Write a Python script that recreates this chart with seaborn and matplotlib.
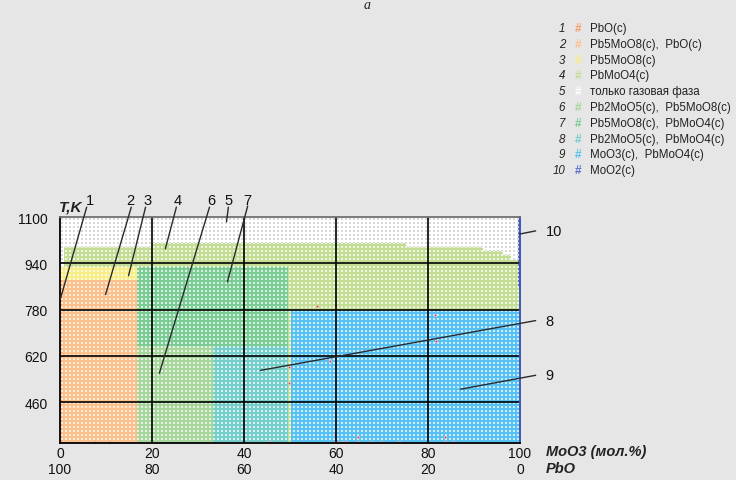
import numpy as np
import pandas as pd
import matplotlib
matplotlib.use("Agg")
import matplotlib.pyplot as plt
from matplotlib.colors import to_rgb
import seaborn as sns

# ---------------- data ----------------
phase_numbers = ["1", "2", "3", "4", "5", "6", "7", "8", "9", "10"]
phase_labels = [
    "PbO(c)",
    "Pb5MoO8(c),  PbO(c)",
    "Pb5MoO8(c)",
    "PbMoO4(c)",
    "только газовая фаза",
    "Pb2MoO5(c),  Pb5MoO8(c)",
    "Pb5MoO8(c),  PbMoO4(c)",
    "Pb2MoO5(c),  PbMoO4(c)",
    "MoO3(c),  PbMoO4(c)",
    "MoO2(c)",
]

# phase fields (mol.% MoO3, T in K); painted in order, later ones overwrite
field_phase = [4, 5, 5, 5, 5, 5, 5, 5, 2, 1, 3, 7, 6, 8, 9, 10]
field_x0 = [0, 0, 0.8, 20, 75.3, 92, 96.4, 98, 0, 0, 0, 16.7, 16.7, 33.3, 50.2, 99.5]
field_x1 = [100, 0.8, 20, 75.3, 92, 96.4, 98, 99.5, 16.7, 0.5, 16.7, 49.5, 33.3, 49.5, 100, 100]
field_T0 = [319, 928, 997, 1010, 996, 984, 967, 953, 319, 319, 881, 653, 319, 319, 319, 859]
field_T1 = [1100, 1100, 1100, 1100, 1100, 1100, 1100, 1100, 881, 881, 928, 928, 653, 653, 778, 1100]

# stray calculated points (red specks)
red_x = [7.7, 10.6, 45.6, 49.7, 49.7, 55.8, 81.6, 81.8, 58.8, 59.7, 60.3, 61.4,
         62.1, 64.7, 67.7, 69.7, 73.6, 83.8, 85.5, 59.7, 64.7, 83.8]
red_T = [322, 322, 322, 583, 528, 792, 763, 673, 604, 322, 322, 322,
         322, 322, 322, 322, 322, 340, 322, 350, 340, 322]

x_ticks = [0, 20, 40, 60, 80, 100]
x_ticks_pbo = [100, 80, 60, 40, 20, 0]
y_ticks = [460, 620, 780, 940, 1100]
T_min, T_max = 319, 1100

# callout labels: (text, label x, label T, line start x, T, line end x, T)
call_text = ["1", "2", "3", "4", "6", "5", "7", "8", "9", "10"]
call_lx = [6.6, 15.3, 19.0, 25.5, 32.9, 36.6, 40.8, 106.5, 106.5, 107.5]
call_lT = [1160, 1160, 1160, 1160, 1160, 1160, 1160, 742, 553, 1052]
call_x0 = [5.8, 15.5, 18.6, 25.3, 32.5, 36.6, 40.8, 103.4, 103.4, 103.4]
call_T0 = [1134, 1134, 1134, 1134, 1134, 1134, 1138, 742, 553, 1052]
call_x1 = [0.1, 9.9, 14.9, 22.9, 21.6, 36.2, 36.4, 43.6, 87.1, 99.9]
call_T1 = [818, 832, 897, 990, 560, 1083, 876, 570, 505, 1041]

# ---------------- style ----------------
phase_colors = ["#f59f6e", "#fcc08c", "#f7ee88", "#c4dd95",
                "#ffffff", "#a6d69b", "#7bcc94", "#76cecb", "#58c1f3", "#5b74c8"]
bg = "#e6e6e6"

sns.set_theme(style="white")
plt.rcParams["font.family"] = ["Liberation Sans", "DejaVu Sans"]

W, H = 736, 481
ax_l, ax_b, ax_w, ax_h = 60, 37, 460, 226
fig = plt.figure(figsize=(W / 100, H / 100), dpi=100, facecolor=bg)
ax = fig.add_axes([ax_l / W, ax_b / H, ax_w / W, ax_h / H])
ax.set_facecolor("white")

# phase map sampled at every screen pixel, with the dotted texture of the original
jj = np.arange(ax_w)
ii = np.arange(ax_h)
Xp = (jj + 0.5) * 100 / ax_w
Tp = T_max - (ii + 0.5) * (T_max - T_min) / ax_h
X, T = np.meshgrid(Xp, Tp)
P = np.zeros_like(X, dtype=int)
for p, a, b, c, d in zip(field_phase, field_x0, field_x1, field_T0, field_T1):
    m = (X >= a) & (X <= b) & (T >= c) & (T <= d)
    P[m] = p

def lighten(c, f):
    r, g, b = to_rgb(c)
    return (r + (1 - r) * f, g + (1 - g) * f, b + (1 - b) * f)

base = np.array([to_rgb(c) for c in phase_colors])
dots = np.array([lighten(c, 0.72) for c in phase_colors])
dots[4] = to_rgb("#d8d8d8")
J, I = np.meshgrid(jj, ii)
dot_mask = ((J % 4) >= 1) & ((J % 4) <= 2) & ((I % 4) >= 1) & ((I % 4) <= 2)
img = np.where(dot_mask[..., None], dots[P - 1], base[P - 1])
ax.imshow(img, extent=(0, 100, T_min, T_max), origin="upper", aspect="auto",
          interpolation="nearest", zorder=1)

spec = pd.DataFrame({"x": red_x, "T": red_T})
sns.scatterplot(data=spec, x="x", y="T", color="#e3242b", marker="s", s=3.6,
                edgecolor="#f2c8c8", linewidth=0.5, ax=ax, zorder=2)

ax.set_xlim(0, 100)
ax.set_ylim(T_min, T_max)

for v in x_ticks[1:-1]:
    ax.axvline(v, color="black", lw=1.2, zorder=3)
for v in y_ticks[:-1]:
    ax.axhline(v, color="black", lw=1.2, zorder=3)

ax.set_xticks(x_ticks)
ax.set_xticklabels([f"{a}\n{b}" for a, b in zip(x_ticks, x_ticks_pbo)],
                   fontsize=10, linespacing=1.2)
ax.set_yticks(y_ticks)
ax.set_yticklabels([str(v) for v in y_ticks], fontsize=10)
ax.tick_params(axis="both", length=0, colors="#111111")
ax.tick_params(axis="y", pad=9)
ax.tick_params(axis="x", pad=2)
ax.set_xlabel("")
ax.set_ylabel("")

for s in ["left", "bottom"]:
    ax.spines[s].set_color("black")
    ax.spines[s].set_linewidth(1.3)
ax.spines["top"].set_color("#707070")
ax.spines["top"].set_linewidth(1.3)
ax.spines["right"].set_color("#3f57b8")
ax.spines["right"].set_linewidth(1.4)
ax.spines["right"].set_linestyle((0, (1, 1)))
for s in ax.spines.values():
    s.set_zorder(4)

# callouts
for t, lx, lT, x0, T0, x1, T1 in zip(call_text, call_lx, call_lT, call_x0, call_T0,
                                      call_x1, call_T1):
    ax.plot([x0, x1], [T0, T1], color="#2a2a2a", lw=1.0, clip_on=False, zorder=5)
    ax.text(lx, lT, t, fontsize=10.5, ha="center", va="center", color="#111111",
            clip_on=False, zorder=5)

# axis titles
fig.text(59 / W, 1 - 207 / H, "T,K", fontsize=11, fontweight="bold",
         fontstyle="italic", ha="left", va="center", color="#222222")
fig.text(546 / W, 1 - 452 / H, "MoO3 (мол.%)", fontsize=10.5, fontweight="bold",
         fontstyle="italic", ha="left", va="center", color="#222222")
fig.text(546 / W, 1 - 469 / H, "PbO", fontsize=10.5, fontweight="bold",
         fontstyle="italic", ha="left", va="center", color="#222222")
fig.text(367 / W, 1 - 9 / H, "a", fontsize=10, fontstyle="italic",
         ha="center", va="baseline", color="#222222", family="Liberation Serif")

# legend
for i, (n, lab, col) in enumerate(zip(phase_numbers, phase_labels, phase_colors)):
    yy = 1 - (29 + i * 15.8) / H
    fig.text(565 / W, yy, n, fontsize=8.3, fontstyle="italic", ha="right",
             va="center", color="#222222")
    fig.text(578 / W, yy, "#", fontsize=8.5, fontweight="bold", ha="center",
             va="center", color=col if n != "5" else "white")
    fig.text(590 / W, yy, lab, fontsize=8.3, ha="left", va="center",
             color="#222222")

fig.savefig("out.png", dpi=100, facecolor=bg)
